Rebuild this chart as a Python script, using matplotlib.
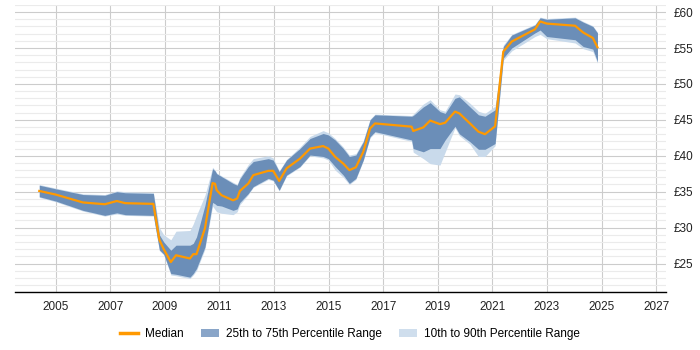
import matplotlib.pyplot as plt
from matplotlib.patches import Patch
from matplotlib.lines import Line2D

plt.rcParams['font.family'] = ['Liberation Sans', 'DejaVu Sans']

# decimal years
years = [2004.4, 2005.0, 2006.0, 2006.8, 2007.24, 2007.55, 2008.58, 2008.8, 2008.96,
         2009.22, 2009.41, 2009.92, 2010.04, 2010.16, 2010.47, 2010.75, 2010.84, 2010.9,
         2011.08, 2011.5, 2011.65, 2011.75, 2012.06, 2012.24, 2012.79, 2012.97, 2013.19,
         2013.46, 2013.95, 2014.32, 2014.8, 2014.99, 2015.24, 2015.54, 2015.76, 2016.0,
         2016.27, 2016.52, 2016.7, 2018.04, 2018.1, 2018.47, 2018.72, 2019.08, 2019.27,
         2019.63, 2019.79, 2020.18, 2020.49, 2020.73, 2021.1, 2021.4, 2021.71, 2022.56,
         2022.75, 2022.99, 2024.03, 2024.33, 2024.68, 2024.85]
median = [35.1, 34.6, 33.5, 33.25, 33.7, 33.4, 33.3, 28.3, 27.0,
          25.2, 26.15, 25.7, 26.3, 26.3, 29.9, 36.2, 36.1, 35.2,
          34.5, 33.8, 34.05, 35.1, 36.15, 37.3, 37.9, 37.9, 36.5,
          38.25, 39.6, 41.0, 41.35, 41.0, 39.85, 38.9, 38.0, 38.4,
          40.55, 43.8, 44.5, 44.05, 43.45, 43.95, 44.9, 44.4, 44.6,
          46.15, 45.9, 44.5, 43.35, 43.0, 44.1, 54.5, 55.9, 57.6,
          58.7, 58.4, 58.1, 57.15, 56.4, 55.1]
p25 = [34.3, 33.7, 32.4, 31.7, 32.05, 31.8, 31.7, 26.9, 26.3,
       23.6, 23.5, 23.1, 23.6, 24.3, 27.3, 33.5, 33.3, 33.1,
       33.0, 32.4, 32.6, 33.5, 34.75, 35.7, 36.85, 36.6, 35.2,
       37.3, 38.5, 40.1, 39.9, 39.6, 38.5, 37.3, 36.15, 36.85,
       39.4, 42.65, 43.35, 42.2, 41.0, 40.55, 41.0, 41.0, 42.2,
       44.1, 43.05, 41.95, 40.9, 40.9, 41.7, 53.6, 55.0, 57.1,
       57.5, 56.6, 56.15, 55.2, 54.85, 53.1]
p75 = [35.9, 35.4, 34.6, 34.5, 35.0, 34.85, 34.75, 29.0, 28.0,
       26.85, 27.55, 27.55, 27.8, 28.7, 33.1, 38.2, 37.9, 37.5,
       37.1, 36.15, 35.9, 36.8, 38.5, 39.2, 39.6, 39.4, 37.8,
       39.4, 41.0, 42.4, 43.1, 42.9, 42.2, 41.0, 39.9, 40.1,
       41.95, 45.0, 45.7, 45.5, 45.6, 46.8, 47.4, 46.15, 45.9,
       48.0, 48.2, 46.8, 45.7, 45.5, 46.4, 55.2, 56.8, 58.2,
       59.2, 59.0, 59.2, 58.6, 58.0, 57.1]
p10 = [34.2, 33.6, 32.3, 31.6, 31.9, 31.7, 31.6, 26.8, 26.2,
       23.4, 23.3, 22.9, 23.4, 24.0, 27.0, 33.0, 32.5, 32.2,
       32.0, 31.8, 32.2, 33.2, 34.6, 35.6, 36.7, 36.5, 35.1,
       37.2, 38.4, 40.0, 39.7, 39.4, 38.0, 37.0, 36.0, 36.7,
       39.3, 42.5, 43.2, 42.0, 40.5, 39.6, 38.9, 38.7, 40.5,
       43.9, 42.8, 41.6, 39.9, 39.9, 41.4, 53.3, 54.6, 56.6,
       56.9, 56.3, 55.7, 54.9, 54.5, 52.9]
p90 = [36.0, 35.5, 34.7, 34.6, 35.1, 35.0, 34.9, 30.0, 29.0,
       28.3, 29.5, 29.6, 30.5, 31.7, 34.5, 38.4, 38.0, 37.6,
       37.2, 36.3, 36.0, 37.0, 38.8, 39.6, 40.0, 39.7, 37.9,
       39.5, 41.2, 42.7, 43.5, 43.2, 42.4, 41.2, 40.1, 40.3,
       42.1, 45.1, 45.8, 45.6, 45.8, 47.2, 47.8, 46.4, 46.2,
       48.6, 48.5, 47.3, 46.2, 45.9, 46.9, 55.4, 56.9, 58.3,
       59.3, 59.1, 59.3, 58.7, 58.1, 57.2]

year_ticks = list(range(2005, 2028, 2))
y_ticks = [25, 30, 35, 40, 45, 50, 55, 60]

fig = plt.figure(figsize=(7, 3.5), dpi=100)
ax = fig.add_axes([0.021, 0.165, 0.930, 0.821])

light = '#c9daeb'
dark = '#6b8eb8'
orange = '#ff9900'

ax.fill_between(years, p10, p90, color=light, linewidth=0)
ax.fill_between(years, p25, p75, color=dark, linewidth=0)
ax.plot(years, median, color=orange, linewidth=1.6)

ax.set_xlim(2003.5, 2027.35)
ax.set_ylim(21, 61)
ax.set_xticks(year_ticks)
ax.set_yticks(y_ticks)
ax.set_yticks(range(21, 62), minor=True)
ax.set_yticklabels(['£%d' % v for v in y_ticks])
ax.yaxis.tick_right()
ax.tick_params(axis='both', length=0, labelsize=8.5, colors='#222222')
ax.tick_params(axis='y', which='minor', length=0)
ax.tick_params(axis='x', pad=6)
ax.tick_params(axis='y', pad=6)

ax.grid(True, axis='x', color='#cccccc', linewidth=0.8)
ax.grid(True, axis='y', which='major', color='#cccccc', linewidth=0.8)
ax.grid(True, axis='y', which='minor', color='#ebebeb', linewidth=0.8)
ax.set_axisbelow(True)

for side in ['top', 'right', 'left']:
    ax.spines[side].set_visible(False)
ax.spines['bottom'].set_color('#000000')
ax.spines['bottom'].set_linewidth(1)

handles = [Line2D([0], [0], color=orange, linewidth=2.5),
           Patch(facecolor='#89a5c8'),
           Patch(facecolor='#cfdeed')]
labels = ['Median', '25th to 75th Percentile Range', '10th to 90th Percentile Range']
fig.legend(handles, labels, loc='center', bbox_to_anchor=(0.5, 0.046), ncol=3,
           frameon=False, fontsize=8.5, handlelength=1.5, columnspacing=1.5,
           handletextpad=0.6)

fig.savefig('out.png', dpi=100)
